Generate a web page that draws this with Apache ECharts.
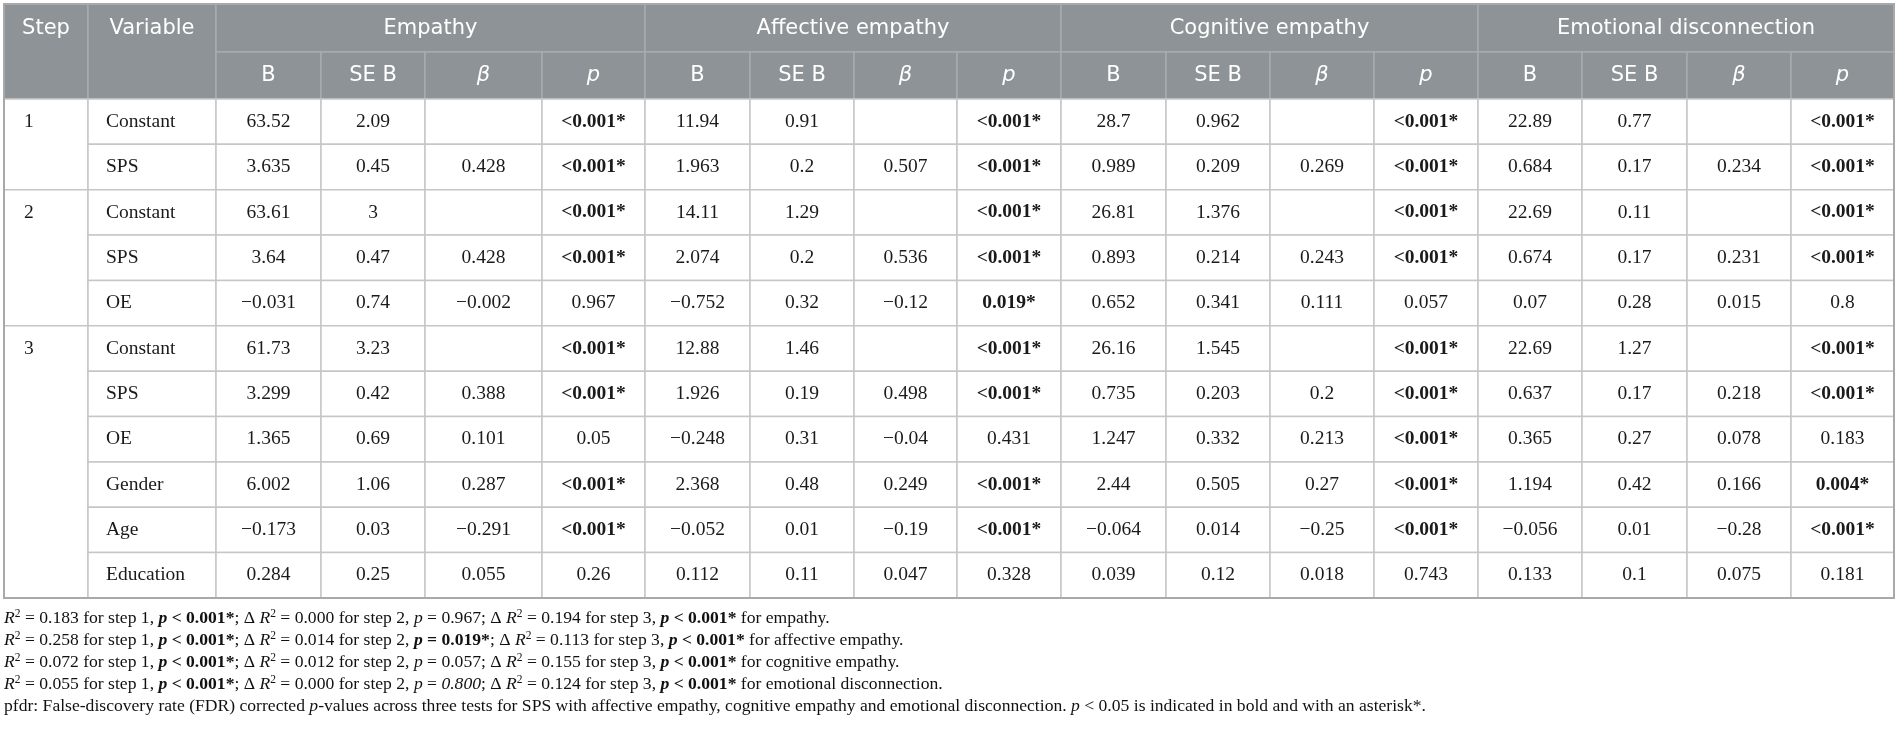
<!DOCTYPE html>
<html>
<head>
<meta charset="utf-8">
<title>Hierarchical regression: SPS and empathy</title>
<script src="https://cdn.jsdelivr.net/npm/echarts@6/dist/echarts.min.js"></script>
<style>
  html, body { margin: 0; padding: 0; background: #fff; }
  #chart { width: 1900px; height: 731px; }
</style>
</head>
<body>
<div id="chart"></div>
<script>
// ---- data ----
var steps = ["1", "2", "3"];
var stepRowSpan = [2, 3, 6];
var variables = ["Constant", "SPS", "Constant", "SPS", "OE", "Constant", "SPS", "OE", "Gender", "Age", "Education"];
var outcomes = ["Empathy", "Affective empathy", "Cognitive empathy", "Emotional disconnection"];
var statHeads = ["B", "SE B", "β", "p"];

// each row: B, SE B, beta, p
var empathy = [
  ["63.52", "2.09", "", "<0.001*"],
  ["3.635", "0.45", "0.428", "<0.001*"],
  ["63.61", "3", "", "<0.001*"],
  ["3.64", "0.47", "0.428", "<0.001*"],
  ["−0.031", "0.74", "−0.002", "0.967"],
  ["61.73", "3.23", "", "<0.001*"],
  ["3.299", "0.42", "0.388", "<0.001*"],
  ["1.365", "0.69", "0.101", "0.05"],
  ["6.002", "1.06", "0.287", "<0.001*"],
  ["−0.173", "0.03", "−0.291", "<0.001*"],
  ["0.284", "0.25", "0.055", "0.26"]
];
var affective = [
  ["11.94", "0.91", "", "<0.001*"],
  ["1.963", "0.2", "0.507", "<0.001*"],
  ["14.11", "1.29", "", "<0.001*"],
  ["2.074", "0.2", "0.536", "<0.001*"],
  ["−0.752", "0.32", "−0.12", "0.019*"],
  ["12.88", "1.46", "", "<0.001*"],
  ["1.926", "0.19", "0.498", "<0.001*"],
  ["−0.248", "0.31", "−0.04", "0.431"],
  ["2.368", "0.48", "0.249", "<0.001*"],
  ["−0.052", "0.01", "−0.19", "<0.001*"],
  ["0.112", "0.11", "0.047", "0.328"]
];
var cognitive = [
  ["28.7", "0.962", "", "<0.001*"],
  ["0.989", "0.209", "0.269", "<0.001*"],
  ["26.81", "1.376", "", "<0.001*"],
  ["0.893", "0.214", "0.243", "<0.001*"],
  ["0.652", "0.341", "0.111", "0.057"],
  ["26.16", "1.545", "", "<0.001*"],
  ["0.735", "0.203", "0.2", "<0.001*"],
  ["1.247", "0.332", "0.213", "<0.001*"],
  ["2.44", "0.505", "0.27", "<0.001*"],
  ["−0.064", "0.014", "−0.25", "<0.001*"],
  ["0.039", "0.12", "0.018", "0.743"]
];
var disconnection = [
  ["22.89", "0.77", "", "<0.001*"],
  ["0.684", "0.17", "0.234", "<0.001*"],
  ["22.69", "0.11", "", "<0.001*"],
  ["0.674", "0.17", "0.231", "<0.001*"],
  ["0.07", "0.28", "0.015", "0.8"],
  ["22.69", "1.27", "", "<0.001*"],
  ["0.637", "0.17", "0.218", "<0.001*"],
  ["0.365", "0.27", "0.078", "0.183"],
  ["1.194", "0.42", "0.166", "0.004*"],
  ["−0.056", "0.01", "−0.28", "<0.001*"],
  ["0.133", "0.1", "0.075", "0.181"]
];

// footnote values
var r2Step1 = ["0.183", "0.258", "0.072", "0.055"];
var dR2Step2 = ["0.000", "0.014", "0.012", "0.000"];
var pStep2 = ["0.967", "0.019*", "0.057", "0.800"];
var dR2Step3 = ["0.194", "0.113", "0.155", "0.124"];
var footOutcome = ["empathy", "affective empathy", "cognitive empathy", "emotional disconnection"];

// ---- layout ----
var colW = [84, 128, 105, 104, 117, 103, 105, 104, 103, 104, 105, 104, 104, 104, 104, 105, 104, 103];
var headH = [48, 47];
var rowH = 45.36;
var HEAD_BG = "#8d9396";
var HEAD_LINE = "#a7acaf";
var BODY_LINE = "#c6c6c6";
var FRAME = "#a9a9a9";
var SERIF = "'Liberation Serif', 'Times New Roman', serif";
var SANS = "'DejaVu Sans', 'Open Sans', sans-serif";

var colX = [0];
colW.forEach(function (w, i) { colX.push(colX[i] + w); });
var headTotal = headH[0] + headH[1];
var tableW = colX[colX.length - 1];
var tableH = headTotal + rowH * variables.length;
function rowTop(r) { return headTotal + rowH * r; }

var blocks = [empathy, affective, cognitive, disconnection];
var cells = [];

function addCell(c0, c1, y0, y1, text, kind, align, ty, extra) {
  var cell = {
    x0: colX[c0], x1: colX[c1], y0: y0, y1: y1,
    text: text, kind: kind, align: align,
    ty: ty
  };
  for (var k in extra) cell[k] = extra[k];
  cells.push(cell);
}

// header
addCell(0, 1, 0, headTotal, "Step", "head", "center", headH[0] / 2 + 1);
addCell(1, 2, 0, headTotal, "Variable", "head", "center", headH[0] / 2 + 1);
outcomes.forEach(function (name, g) {
  addCell(2 + g * 4, 6 + g * 4, 0, headH[0], name, "head", "center", headH[0] / 2 + 1);
  statHeads.forEach(function (h, k) {
    var c = 2 + g * 4 + k;
    addCell(c, c + 1, headH[0], headTotal, h, "head", "center", headH[0] + headH[1] / 2,
      { italic: (h === "β" || h === "p") });
  });
});

// step column (merged cells)
var r0 = 0;
steps.forEach(function (s, i) {
  addCell(0, 1, rowTop(r0), rowTop(r0 + stepRowSpan[i]), s, "body", "left", rowTop(r0) + rowH / 2, { pad: 20 });
  r0 += stepRowSpan[i];
});

// variable + values
variables.forEach(function (v, r) {
  var yc = rowTop(r) + rowH / 2;
  addCell(1, 2, rowTop(r), rowTop(r + 1), v, "body", "left", yc, { pad: 18 });
  blocks.forEach(function (block, g) {
    block[r].forEach(function (val, k) {
      var c = 2 + g * 4 + k;
      addCell(c, c + 1, rowTop(r), rowTop(r + 1), val, "body", "center", yc,
        { bold: val.indexOf("*") >= 0 });
    });
  });
});

// outer frame
cells.push({ x0: 0, x1: tableW, y0: 0, y1: tableH, text: "", kind: "frame" });

function renderCell(params, api) {
  var c = cells[params.dataIndex];
  var p0 = api.coord([api.value(0), api.value(1)]);
  var p1 = api.coord([api.value(2), api.value(3)]);
  var children = [];
  if (c.kind === "frame") {
    children.push({
      type: "rect",
      shape: { x: p0[0], y: p0[1], width: p1[0] - p0[0], height: p1[1] - p0[1] },
      style: { fill: "none", stroke: FRAME, lineWidth: 2 }
    });
    return { type: "group", children: children };
  }
  var head = c.kind === "head";
  children.push({
    type: "rect",
    shape: { x: p0[0], y: p0[1], width: p1[0] - p0[0], height: p1[1] - p0[1] },
    style: { fill: head ? HEAD_BG : "#ffffff", stroke: head ? HEAD_LINE : BODY_LINE, lineWidth: 1.5 }
  });
  if (c.text) {
    var ty = api.coord([0, c.ty])[1];
    var tx = c.align === "center" ? (p0[0] + p1[0]) / 2 : p0[0] + c.pad;
    children.push({
      type: "text",
      style: {
        x: tx, y: ty, text: c.text,
        align: c.align, verticalAlign: "middle",
        fontFamily: head ? SANS : SERIF,
        fontSize: head ? 21 : 19.5,
        fontWeight: c.bold ? "bold" : "normal",
        fontStyle: c.italic ? "italic" : "normal",
        fill: head ? "#ffffff" : "#1a1a1a"
      }
    });
  }
  return { type: "group", children: children };
}

// footnotes, built from the values above
var FOOT_SIZE = 17.6;
function pExpr(val, italicVal) {
  if (val.indexOf("*") >= 0) return "{bi|p} {b|= " + val + "}";
  return "{i|p} = " + (italicVal ? "{i|" + val + "}" : val);
}
var footLines = outcomes.map(function (o, g) {
  return "{i|R}{sup|2} = " + r2Step1[g] + " for step 1, {bi|p} {b|< 0.001*}; Δ {i|R}{sup|2} = " +
    dR2Step2[g] + " for step 2, " + pExpr(pStep2[g], g === 3) + "; Δ {i|R}{sup|2} = " +
    dR2Step3[g] + " for step 3, {bi|p} {b|< 0.001*} for " + footOutcome[g] + ".";
});
footLines.push("pfdr: False-discovery rate (FDR) corrected {i|p}-values across three tests for SPS with affective empathy, " +
  "cognitive empathy and emotional disconnection. {i|p} < 0.05 is indicated in bold and with an asterisk*.");

var footRich = {
  i: { fontStyle: "italic", fontFamily: SERIF, fontSize: FOOT_SIZE },
  b: { fontWeight: "bold", fontFamily: SERIF, fontSize: FOOT_SIZE },
  bi: { fontWeight: "bold", fontStyle: "italic", fontFamily: SERIF, fontSize: FOOT_SIZE },
  sup: { fontFamily: SERIF, fontSize: 11.5, lineHeight: 12, verticalAlign: "top" }
};
var graphics = footLines.map(function (t, i) {
  return {
    type: "text",
    left: 4,
    top: 608 + i * 22,
    silent: true,
    style: {
      text: t, rich: footRich,
      fontFamily: SERIF, fontSize: FOOT_SIZE, lineHeight: 20,
      fill: "#111"
    }
  };
});

var myChart = echarts.init(document.getElementById("chart"));
var option = {
  animation: false,
  grid: { left: 4, top: 4, width: tableW, height: tableH },
  xAxis: { type: "value", min: 0, max: tableW, show: false },
  yAxis: { type: "value", min: 0, max: tableH, inverse: true, show: false },
  series: [
    {
      type: "custom",
      renderItem: renderCell,
      data: cells.map(function (c) { return [c.x0, c.y0, c.x1, c.y1]; }),
      silent: true,
      clip: false
    }
  ],
  graphic: graphics
};
myChart.setOption(option);

window.addEventListener("resize", function () {
  myChart.resize();
});
</script>
</body>
</html>
